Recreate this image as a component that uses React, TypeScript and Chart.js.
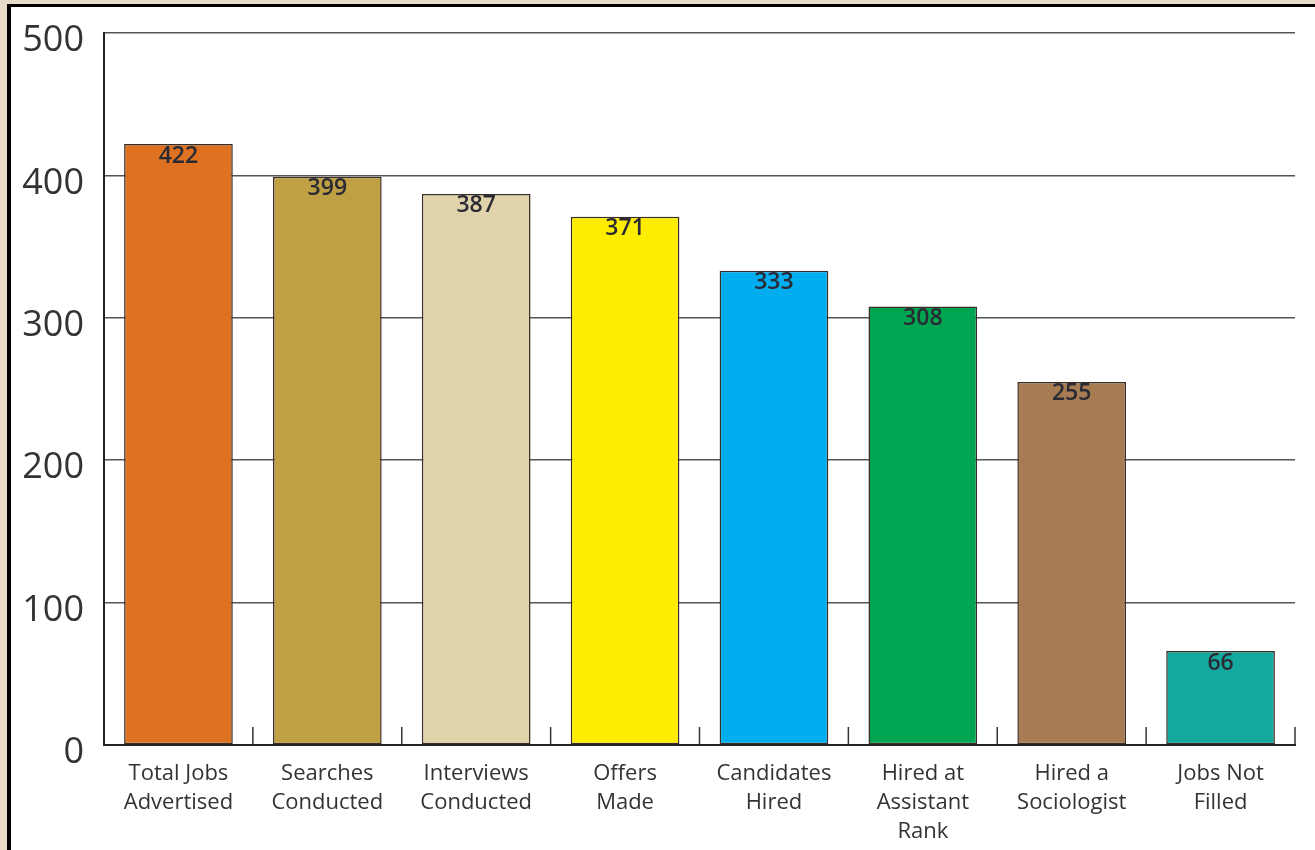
import React, { useEffect, useRef } from "react";
import { Chart, registerables } from "chart.js";

Chart.register(...registerables);

const categories: string[][] = [
  ["Total Jobs", "Advertised"],
  ["Searches", "Conducted"],
  ["Interviews", "Conducted"],
  ["Offers", "Made"],
  ["Candidates", "Hired"],
  ["Hired at", "Assistant", "Rank"],
  ["Hired a", "Sociologist"],
  ["Jobs Not", "Filled"],
];
const values: number[] = [422, 399, 387, 371, 333, 308, 255, 66];
const barColors: string[] = [
  "#DE7220",
  "#BFA042",
  "#E0D3AC",
  "#FFED00",
  "#00AEEF",
  "#00A551",
  "#A77C52",
  "#15A89E",
];
const yTicks: number[] = [0, 100, 200, 300, 400, 500];

const FONT = "'Open Sans', 'Liberation Sans', sans-serif";

const valueLabelPlugin = {
  id: "valueLabels",
  afterDatasetsDraw(chart: any) {
    const ctx = chart.ctx;
    const meta = chart.getDatasetMeta(0);
    ctx.save();
    ctx.fillStyle = "#2a2a35";
    ctx.font = `600 23px ${FONT}`;
    ctx.textAlign = "center";
    ctx.textBaseline = "middle";
    meta.data.forEach((bar: any, i: number) => {
      ctx.fillText(String(values[i]), bar.x, bar.y + 12);
    });
    ctx.restore();
  },
};

const tickMarkPlugin = {
  id: "innerTicks",
  afterDatasetsDraw(chart: any) {
    const ctx = chart.ctx;
    const xs = chart.scales.x;
    const bottom = chart.chartArea.bottom;
    ctx.save();
    ctx.strokeStyle = "#333";
    ctx.lineWidth = 1.5;
    for (let i = 0; i < categories.length; i++) {
      const half = (xs.getPixelForValue(1) - xs.getPixelForValue(0)) / 2;
      const x = xs.getPixelForValue(i) + half;
      ctx.beginPath();
      ctx.moveTo(x, bottom);
      ctx.lineTo(x, bottom - 18);
      ctx.stroke();
    }
    ctx.restore();
  },
};

export default function App() {
  const ref = useRef<HTMLCanvasElement | null>(null);

  useEffect(() => {
    document.body.style.margin = "0";
    if (!ref.current) return;
    const chart = new Chart(ref.current, {
      type: "bar",
      data: {
        labels: categories,
        datasets: [
          {
            data: values,
            backgroundColor: barColors,
            borderColor: "#3a2d25",
            borderWidth: 1.5,
            borderSkipped: false,
            barPercentage: 0.73,
            categoryPercentage: 1,
          },
        ],
      },
      options: {
        animation: false,
        responsive: false,
        maintainAspectRatio: false,
        layout: { padding: { top: 33, right: 20, bottom: 0, left: 0 } },
        plugins: {
          legend: { display: false },
          tooltip: { enabled: false },
          title: { display: false },
        },
        scales: {
          x: {
            grid: { display: false },
            border: { display: true, color: "#222", width: 2 },
            ticks: {
              color: "#333",
              font: { family: FONT, size: 22, lineHeight: 1.33 },
              padding: 6,
              maxRotation: 0,
              autoSkip: false,
            },
            afterFit(scale: any) {
              scale.height = 105;
              scale.paddingLeft = 0;
              scale.paddingRight = 0;
            },
          },
          y: {
            min: 0,
            max: 500,
            afterBuildTicks(scale: any) {
              scale.ticks = yTicks.map((v) => ({ value: v }));
            },
            grid: {
              color: "#555",
              lineWidth: 1.5,
              drawTicks: false,
            },
            border: { display: true, color: "#222", width: 2 },
            ticks: {
              color: "#333",
              font: { family: FONT, size: 36 },
              padding: 20,
              labelOffset: 8,
            },
            afterFit(scale: any) {
              scale.width = 104;
              scale.paddingTop = 0;
              scale.paddingBottom = 0;
            },
          },
        },
      },
      plugins: [valueLabelPlugin, tickMarkPlugin],
    });
    return () => chart.destroy();
  }, []);

  return (
    <div
      style={{
        position: "absolute",
        left: 0,
        top: 0,
        width: 1315,
        height: 850,
        overflow: "hidden",
        background: "#E7DDC7",
      }}
    >
      <div
        style={{
          position: "absolute",
          left: 7,
          top: 4,
          width: 1320,
          height: 860,
          background: "#fff",
          borderLeft: "4px solid #000",
          borderTop: "3px solid #000",
        }}
      />
      <canvas
        ref={ref}
        width={1315}
        height={850}
        style={{ position: "absolute", left: 0, top: 0 }}
      />
    </div>
  );
}
